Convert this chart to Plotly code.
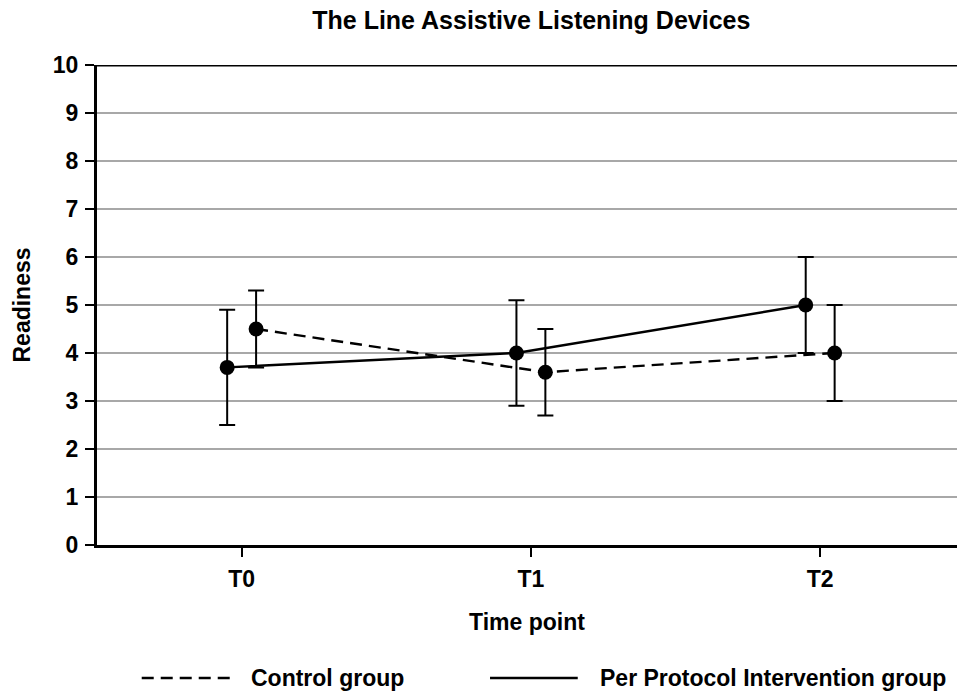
import plotly.graph_objects as go

# ---- data ----
categories = ["T0", "T1", "T2"]
control_mean = [4.5, 3.6, 4.0]
control_err = [0.8, 0.9, 1.0]
intervention_mean = [3.7, 4.0, 5.0]
intervention_err = [1.2, 1.1, 1.0]
y_ticks = list(range(0, 11))

# ---- styling ----
FONT = "Liberation Sans, Arial, sans-serif"
OFFSET = 0.05
DASH = "12px,7px"
idx = list(range(len(categories)))

fig = go.Figure()

fig.add_trace(go.Scatter(
    x=[i + OFFSET for i in idx], y=control_mean, name="Control group",
    mode="lines+markers",
    line=dict(color="black", width=2.4, dash=DASH),
    marker=dict(color="black", size=15),
    error_y=dict(type="data", array=control_err, color="black", thickness=2, width=8),
    showlegend=False,
))
fig.add_trace(go.Scatter(
    x=[i - OFFSET for i in idx], y=intervention_mean, name="Per Protocol Intervention group",
    mode="lines+markers",
    line=dict(color="black", width=2.4),
    marker=dict(color="black", size=15),
    error_y=dict(type="data", array=intervention_err, color="black", thickness=2, width=8),
    showlegend=False,
))

axis_font = dict(family=FONT, size=23, color="black", weight="bold")

fig.update_layout(
    width=957, height=693,
    margin=dict(l=97, r=0, t=65, b=148),
    paper_bgcolor="white", plot_bgcolor="white",
    font=dict(family=FONT, color="black"),
    title=dict(text="<b>The Line Assistive Listening Devices</b>",
               font=dict(family=FONT, size=25, color="black"),
               x=0.505, xref="paper", xanchor="center",
               y=1 - 20 / 693, yref="container", yanchor="middle"),
    xaxis=dict(
        range=[-0.5, 2.473], tickmode="array", tickvals=idx, ticktext=categories,
        showgrid=False, zeroline=False,
        showline=True, linecolor="black", linewidth=3,
        ticks="outside", ticklen=9, tickwidth=2, tickcolor="black",
        tickfont=axis_font, ticklabelstandoff=2,
        title=dict(text="Time point", font=axis_font, standoff=24),
    ),
    yaxis=dict(
        range=[0, 10], tickmode="array", tickvals=y_ticks,
        showgrid=True, gridcolor="#a8a8a8", gridwidth=1.5, zeroline=False,
        showline=True, linecolor="black", linewidth=3,
        ticks="outside", ticklen=9, tickwidth=2, tickcolor="black",
        tickfont=axis_font, ticklabelstandoff=2,
        title=dict(text="Readiness", font=axis_font, standoff=16),
    ),
)

# top frame line
fig.add_shape(type="line", xref="paper", yref="y", x0=0, x1=1, y0=10, y1=10,
              line=dict(color="black", width=3))

# custom legend
LEG_Y = -0.277
fig.add_shape(type="line", xref="paper", yref="paper", x0=0.052, x1=0.158, y0=LEG_Y, y1=LEG_Y,
              line=dict(color="black", width=2.4, dash=DASH))
fig.add_annotation(xref="paper", yref="paper", x=0.177, y=LEG_Y, xanchor="left", yanchor="middle",
                   text="<b>Control group</b>", showarrow=False, font=dict(family=FONT, size=23, color="black"))
fig.add_shape(type="line", xref="paper", yref="paper", x0=0.457, x1=0.559, y0=LEG_Y, y1=LEG_Y,
              line=dict(color="black", width=2.4))
fig.add_annotation(xref="paper", yref="paper", x=0.582, y=LEG_Y, xanchor="left", yanchor="middle",
                   text="<b>Per Protocol Intervention group</b>", showarrow=False,
                   font=dict(family=FONT, size=23, color="black"))

fig.write_html(
    "out.html",
    config={"displayModeBar": False},
    post_script="document.body.style.margin='0';document.body.style.overflow='hidden';",
)
